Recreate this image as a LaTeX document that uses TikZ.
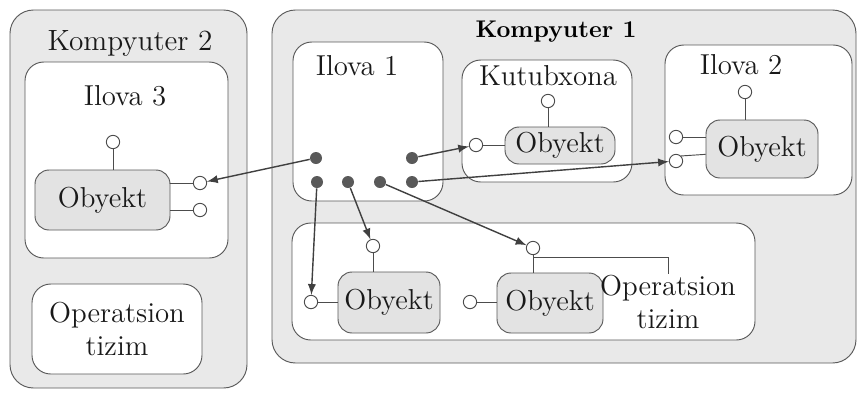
\documentclass[tikz,border=0pt]{standalone}
\usetikzlibrary{arrows,fit,positioning}

\tikzset{
  comp/.style={draw=black!65, fill=gray!17, rounded corners=10pt, inner sep=0pt},
  app/.style={draw=black!65, fill=white, rounded corners=8pt, inner sep=0pt},
  obj/.style={draw=black!65, fill=gray!22, rounded corners=6pt, inner sep=0pt},
  port/.style={circle, draw=black!70, fill=white, minimum size=0.2cm, inner sep=0pt},
  ball/.style={circle, fill=black!65, minimum size=0.18cm, inner sep=0pt},
  lbl/.style={text=black!90, align=center, inner sep=0pt,
    font=\fontsize{12.3}{14.5}\selectfont},
  link/.style={-latex, black!75, line width=0.6pt},
  stem/.style={black!70, line width=0.4pt}
}

\begin{document}
\begin{tikzpicture}[x=0.015cm, y=-0.015cm]
\useasboundingbox (0,0) rectangle (859,401);

% Kompyuter 2
\node[comp, fit={(10,10) (247,388)}] (k2) {};
\node[lbl, font=\fontsize{12.5}{14}\selectfont] (k2t) at (130,43) {Kompyuter 2};
\node[app, fit={(25,62) (228,258)}] (il3) {};
\node[lbl] (il3t) at (125,96) {Ilova 3};
\node[obj, fit={(35,170) (170,230)}] (o3) {};
\node[lbl] (o3t) at (o3) {Obyekt};
\node[port] (p3t) at (113,142) {};
\node[port] (p3a) at (200,183) {};
\node[port] (p3b) at (200,210) {};
\draw[stem] (p3t) -- (p3t |- o3.north);
\draw[stem] (o3.east |- p3a) -- (p3a);
\draw[stem] (o3.east |- p3b) -- (p3b);
\node[app, fit={(32,284) (202,374)}] (os2) {};
\node[lbl] (os2t) at (os2) {Operatsion\\tizim};

% Kompyuter 1
\node[comp, fit={(272,10) (856,363)}] (k1) {};
\node[lbl, text=black, font=\fontsize{10.3}{12}\selectfont\bfseries] (k1t) at (556,32) {Kompyuter 1};

% Ilova 1 with its ports
\node[app, fit={(293,42) (443,201)}] (il1) {};
\node[lbl] (il1t) at (357,66) {Ilova 1};
\node[ball] (d1) at (316,158) {};
\node[ball] (d2) at (412,158) {};
\node[ball] (d3) at (317,182) {};
\node[ball] (d4) at (348,182) {};
\node[ball] (d5) at (380,182) {};
\node[ball] (d6) at (412,182) {};

% Kutubxona
\node[app, fit={(462,60) (632,182)}] (lib) {};
\node[lbl] (libt) at (548,76) {Kutubxona};
\node[obj, fit={(505,127) (615,164)}] (ok) {};
\node[lbl] (okt) at (ok) {Obyekt};
\node[port] (pkt) at (548,101) {};
\node[port] (pk) at (476,145) {};
\draw[stem] (pkt) -- (pkt |- ok.north);
\draw[stem] (pk) -- (ok.west |- pk);

% Ilova 2
\node[app, fit={(665,45) (852,195)}] (il2) {};
\node[lbl] (il2t) at (741,65) {Ilova 2};
\node[obj, fit={(706,120) (818,178)}] (o2) {};
\node[lbl] (o2t) at (o2) {Obyekt};
\node[port] (p2t) at (745,92) {};
\node[port] (p2a) at (676,137) {};
\node[port] (p2b) at (676,161) {};
\draw[stem] (p2t) -- (p2t |- o2.north);
\draw[stem] (p2a.east) -- (o2.west |- p2a);
\draw[stem] (p2b.north east) -- ([yshift=-0.08cm]o2.west);

% Operatsion tizim of Kompyuter 1
\node[app, fit={(292,223) (755,340)}] (os1) {};
\node[obj, fit={(338,272) (440,333)}] (oa) {};
\node[lbl] (oat) at (oa) {Obyekt};
\node[port] (pat) at (373,246) {};
\node[port] (pa) at (311,302) {};
\draw[stem] (pat) -- (pat |- oa.north);
\draw[stem] (pa) -- (oa.west |- pa);
\node[obj, fit={(497,273) (603,333)}] (ob) {};
\node[lbl] (obt) at (ob) {Obyekt};
\node[port] (pbt) at (533,248) {};
\node[port] (pb) at (470,302) {};
\draw[stem] (pbt) -- (pbt |- ob.north);
\draw[stem] (pb) -- (ob.west |- pb);
\node[lbl] (os1t) at (668,302) {Operatsion\\tizim};
\coordinate (osk) at (668,257);
\draw[stem, line width=0.3pt] (pbt |- osk) -- (osk) -- (osk |- os1t.north);

% calls
\draw[link] (d1) -- (p3a);
\draw[link] (d2) -- (pk);
\draw[link] (d6) -- (p2b);
\draw[link] (d3) -- (pa);
\draw[link] (d4) -- (pat);
\draw[link] (d5) -- (pbt);
\end{tikzpicture}
\end{document}
